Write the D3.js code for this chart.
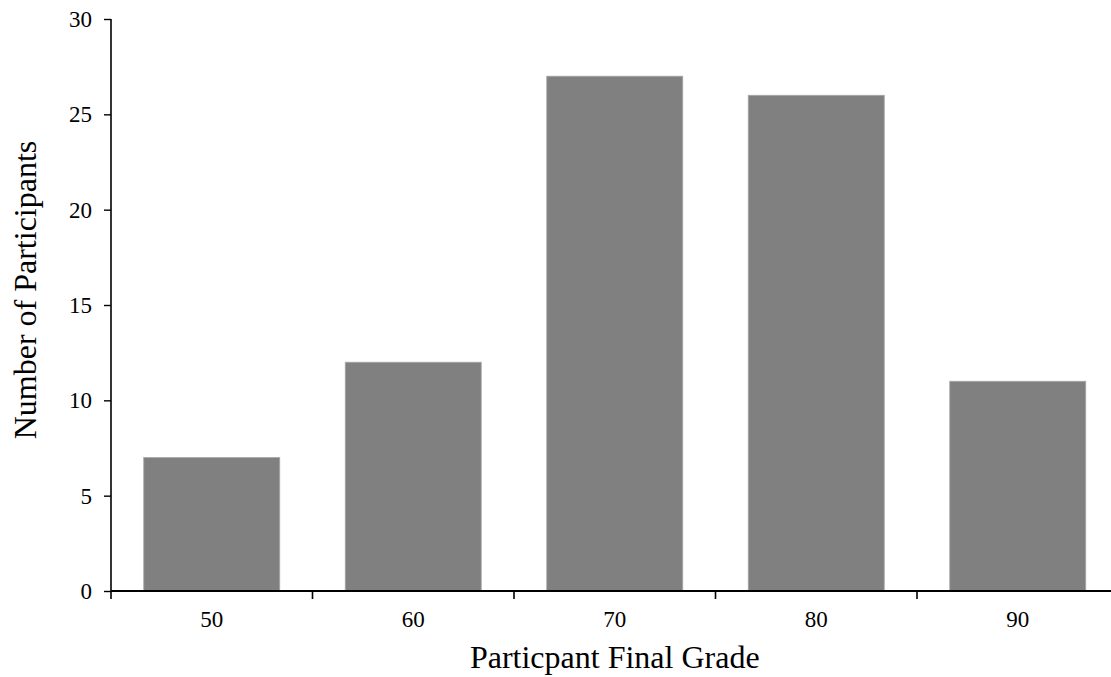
<!DOCTYPE html>
<html>
<head>
<meta charset="utf-8">
<script src="https://cdn.jsdelivr.net/npm/d3@7"></script>
<style>
  html, body { margin: 0; padding: 0; background: #fff; }
  svg { display: block; }
  text { font-family: "Liberation Serif", "Times New Roman", serif; fill: #000; }
</style>
</head>
<body>
<svg id="chart" width="1111" height="677"></svg>
<script>
// Grade bins and participant counts
const grades = ["50", "60", "70", "80", "90"];
const participants = [7, 12, 27, 26, 11];
const yTicks = [0, 5, 10, 15, 20, 25, 30];

const xTitle = "Particpant Final Grade";
const yTitle = "Number of Participants";

const svg = d3.select("#chart");

const plotLeft = 111, plotRight = 1118.5, plotTop = 19, plotBottom = 591;
const tickFont = "Liberation Serif, Times New Roman, serif";

const x = d3.scaleBand()
  .domain(grades)
  .range([plotLeft, plotRight])
  .paddingInner(0.325)
  .paddingOuter(0.1625);

const y = d3.scaleLinear()
  .domain([0, 30])
  .range([plotBottom, plotTop]);

// Bars
svg.append("g")
  .selectAll("rect")
  .data(grades.map((g, i) => ({ g, v: participants[i] })))
  .join("rect")
  .attr("x", d => x(d.g))
  .attr("y", d => y(d.v))
  .attr("width", x.bandwidth())
  .attr("height", d => y(0) - y(d.v))
  .attr("fill", "#808080")
  .attr("stroke", "#a8a8a8")
  .attr("stroke-width", 0.8);

// Y axis
const yAxis = svg.append("g")
  .attr("transform", `translate(${plotLeft},0)`)
  .call(d3.axisLeft(y).tickValues(yTicks).tickSize(7).tickPadding(12).tickFormat(d3.format("d")));
yAxis.attr("font-size", 23).attr("font-family", tickFont);
yAxis.select(".domain").attr("stroke", "#000").attr("stroke-width", 1.6).attr("d", `M0,${plotTop}V${plotBottom}`);
yAxis.selectAll(".tick line").attr("stroke", "#000").attr("stroke-width", 1.4);

// X axis: category labels centred in each band
const xAxis = svg.append("g")
  .attr("transform", `translate(0,${plotBottom})`)
  .call(d3.axisBottom(x).tickSize(0).tickPadding(20));
xAxis.attr("font-size", 23).attr("font-family", tickFont);
xAxis.select(".domain").attr("stroke", "#000").attr("stroke-width", 2).attr("d", `M${plotLeft},0H${plotRight}`);

// Tick marks on the band boundaries
const step = x.step();
const boundaries = d3.range(grades.length + 1).map(i => plotLeft + i * step);
svg.append("g")
  .selectAll("line")
  .data(boundaries)
  .join("line")
  .attr("x1", d => d).attr("x2", d => d)
  .attr("y1", plotBottom).attr("y2", plotBottom + 8)
  .attr("stroke", "#000")
  .attr("stroke-width", 1.6);

// Axis titles
svg.append("text")
  .attr("x", (plotLeft + plotRight) / 2)
  .attr("y", 668)
  .attr("text-anchor", "middle")
  .attr("font-size", 32)
  .text(xTitle);

svg.append("text")
  .attr("transform", `translate(36,290) rotate(-90)`)
  .attr("text-anchor", "middle")
  .attr("font-size", 32)
  .text(yTitle);
</script>
</body>
</html>
